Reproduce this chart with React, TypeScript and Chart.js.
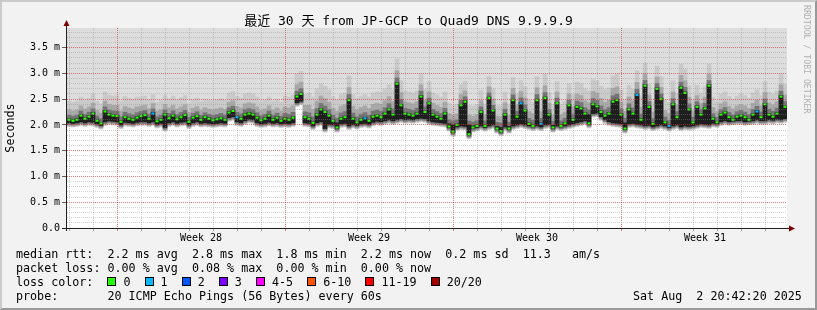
import React, { useEffect, useRef } from 'react';
import { Chart, registerables } from 'chart.js';

Chart.register(...registerables);

const MONO = "'DejaVu Sans Mono', 'Noto Sans CJK SC', monospace";

const titleText = '最近 30 天 from JP-GCP to Quad9 DNS 9.9.9.9';
const yAxisTitle = 'Seconds';
const watermark = 'RRDTOOL / TOBI OETIKER';
const weekLabels = ['Week 28', 'Week 29', 'Week 30', 'Week 31'];
const weekStartHours = [50, 218, 386, 554];
const firstDayLineHour = 2;
const binHours = 4;
const totalHours = 720;
const yMax = 3.88;

// median rtt (ms) per 4-hour bin
const medianRtt = [
  2.10, 2.08, 2.10, 2.18, 2.12, 2.16, 2.22, 2.08, 2.03, 2.26,
  2.20, 2.18, 2.17, 2.06, 2.15, 2.12, 2.10, 2.14, 2.17, 2.19,
  2.12, 2.22, 2.07, 2.10, 2.20, 2.13, 2.18, 2.11, 2.15, 2.19,
  2.06, 2.14, 2.17, 2.10, 2.15, 2.12, 2.09, 2.11, 2.13, 2.10,
  2.24, 2.27, 2.15, 2.12, 2.20,
  2.22, 2.20, 2.14, 2.09, 2.12, 2.18, 2.10, 2.14, 2.08, 2.12,
  2.10, 2.14, 2.55, 2.60, 2.15, 2.12, 2.04, 2.20, 2.30, 2.25,
  2.18, 2.08, 1.95, 2.12, 2.15, 2.48, 2.12, 2.05, 2.10, 2.13,
  2.08, 2.16, 2.18, 2.15, 2.22, 2.30, 2.20, 2.80, 2.38, 2.22,
  2.20, 2.18, 2.22, 2.55, 2.25,
  2.42, 2.20, 2.16, 2.12, 2.22, 1.97, 1.87, 2.00, 2.38, 2.45,
  1.82, 1.95, 1.98, 2.25, 1.98, 2.52, 2.28, 1.93, 1.88, 2.20,
  1.93, 2.48, 2.16, 2.42, 2.28, 2.02, 1.98, 2.48, 2.02, 2.52,
  2.20, 1.95, 2.42, 1.98, 2.03, 2.38, 2.10, 2.35, 2.32, 2.22,
  2.03, 2.40, 2.36, 2.25, 2.18,
  2.22, 2.45, 2.48, 2.20, 1.93, 2.30, 2.22, 2.58, 2.10, 2.76,
  2.35, 2.02, 2.70, 2.50, 2.05, 1.98, 2.40, 2.15, 2.72, 2.62,
  2.30, 2.05, 2.35, 2.20, 2.32, 2.76, 2.12, 2.05, 2.20, 2.24,
  2.15, 2.10, 2.16, 2.18, 2.15, 2.10, 2.20, 2.26, 2.15, 2.40,
  2.20, 2.16, 2.22, 2.55, 2.35,
];

// lower edge of the dense smoke (ms) per 4-hour bin
const smokeLow = [
  2.06, 2.05, 2.06, 2.08, 2.06, 2.08, 2.07, 2.04, 2.01, 2.08,
  2.10, 2.09, 2.08, 2.02, 2.07, 2.06, 2.05, 2.07, 2.08, 2.08,
  2.06, 2.08, 2.03, 2.05, 1.97, 2.06, 2.08, 2.05, 2.07, 2.08,
  2.02, 2.06, 2.08, 2.05, 2.06, 2.05, 2.04, 2.05, 2.06, 2.05,
  2.16, 2.18, 2.08, 2.06, 2.10,
  2.13, 2.12, 2.06, 2.04, 2.05, 2.07, 2.05, 2.06, 2.04, 2.05,
  2.04, 2.06, 2.45, 2.48, 2.06, 2.05, 2.00, 2.06, 2.08, 1.95,
  2.03, 2.02, 2.02, 2.04, 2.05, 2.00, 2.03, 2.01, 2.04, 2.05,
  2.03, 2.07, 2.09, 2.08, 2.10, 2.12, 2.10, 2.12, 2.14, 2.12,
  2.13, 2.12, 2.14, 2.15, 2.14,
  2.10, 2.08, 2.07, 2.06, 2.05, 2.00, 1.98, 1.98, 2.00, 1.99,
  1.98, 1.96, 1.97, 2.00, 1.97, 2.00, 2.02, 1.95, 1.93, 1.98,
  1.95, 2.00, 2.02, 2.04, 2.02, 2.00, 1.98, 2.00, 1.98, 2.02,
  2.03, 1.97, 2.00, 1.98, 2.00, 2.02, 2.04, 2.06, 2.08, 2.10,
  2.18, 2.24, 2.25, 2.18, 2.12,
  2.08, 2.06, 2.05, 2.04, 2.02, 2.04, 2.05, 2.03, 2.02, 2.00,
  2.01, 1.98, 2.00, 2.02, 2.00, 1.97, 2.00, 2.02, 1.98, 2.00,
  1.99, 2.00, 2.02, 2.04, 2.03, 2.02, 2.05, 2.04, 2.08, 2.10,
  2.08, 2.09, 2.10, 2.10, 2.08, 2.09, 2.10, 2.12, 2.10, 2.10,
  2.12, 2.11, 2.13, 2.12, 2.14,
];

// how far the light smoke rises above the dense smoke (ms), per day
const smokeSpread = [
  0.34, 0.36, 0.38, 0.35, 0.36, 0.33, 0.36, 0.38, 0.34, 0.42,
  0.48, 0.45, 0.44, 0.46, 0.42, 0.40, 0.38, 0.40, 0.42, 0.44,
  0.40, 0.46, 0.48, 0.45, 0.42, 0.44, 0.40, 0.38, 0.40, 0.42,
];

// bins whose median is drawn in the "1 lost" colour
const lossOneBins = [21, 42, 74, 113, 118, 142, 150, 172];

const lossLabels = ['0', '1', '2', '3', '4-5', '6-10', '11-19', '20/20'];
const lossColors = ['#26ff00', '#00b8ff', '#0059ff', '#7e00ff', '#ff00ff', '#ff5500', '#ff0000', '#a10000'];

const rttLine = 'median rtt:  2.2 ms avg  2.8 ms max  1.8 ms min  2.2 ms now  0.2 ms sd  11.3   am/s';
const lossLine = 'packet loss: 0.00 % avg  0.08 % max  0.00 % min  0.00 % now';
const lossColorLabel = 'loss color:  ';
const probeLine = 'probe:       20 ICMP Echo Pings (56 Bytes) every 60s';
const dateLine = 'Sat Aug  2 20:42:20 2025';

const GRID = 'rgba(143,143,143,0.4)';
const MGRID = 'rgba(225,40,40,0.6)';
const NONE = 'rgba(0,0,0,0)';

export default function App() {
  const ref = useRef<HTMLCanvasElement | null>(null);

  useEffect(() => {
    if (!ref.current) return;
    const hourOf = (i: number) => i * binHours + binHours / 2;
    const darkLo = medianRtt.map((m, i) => Math.min(m, smokeLow[i]) - 0.02);
    const darkHi = medianRtt.map((m, i) => Math.max(m, smokeLow[i]) + 0.02);
    const spreadAt = (i: number) => smokeSpread[Math.min(smokeSpread.length - 1, Math.floor((i * binHours) / 24))];
    const layer = (fn: (i: number) => number[]) => medianRtt.map((_, i) => ({ x: hourOf(i), y: fn(i) }));

    const weekLabelHours = weekStartHours.map((h) => h + 84);
    const dayLines: number[] = [];
    for (let h = firstDayLineHour; h < totalHours; h += 24) dayLines.push(h);
    const xTicks = [...dayLines, ...weekLabelHours].sort((a, b) => a - b);
    const yTicks: number[] = [];
    for (let i = 0; i <= Math.floor(yMax * 10); i++) yTicks.push(i / 10);
    const isMajorY = (v: number) => Math.round(v * 10) % 5 === 0;

    const common = { grouped: false, barPercentage: 1, categoryPercentage: 1, borderWidth: 0 };

    const bgPlugin = {
      id: 'canvasBg',
      beforeDraw(chart: any) {
        const { ctx, chartArea: a } = chart;
        ctx.save();
        ctx.fillStyle = '#dddddd';
        ctx.fillRect(a.left, a.top, a.right - a.left, a.bottom - a.top);
        ctx.restore();
      },
    };

    const axisPlugin = {
      id: 'rrdAxes',
      afterDraw(chart: any) {
        const { ctx, chartArea: a } = chart;
        ctx.save();
        ctx.strokeStyle = '#202020';
        ctx.lineWidth = 1;
        ctx.beginPath();
        ctx.moveTo(a.left - 0.5, a.bottom + 3);
        ctx.lineTo(a.left - 0.5, a.top - 3);
        ctx.moveTo(a.left - 5, a.bottom + 0.5);
        ctx.lineTo(a.right + 3, a.bottom + 0.5);
        ctx.stroke();
        ctx.fillStyle = '#7f0000';
        ctx.beginPath();
        ctx.moveTo(a.left - 0.5, a.top - 8);
        ctx.lineTo(a.left - 3.5, a.top - 2);
        ctx.lineTo(a.left + 2.5, a.top - 2);
        ctx.closePath();
        ctx.fill();
        ctx.beginPath();
        ctx.moveTo(a.right + 8, a.bottom + 0.5);
        ctx.lineTo(a.right + 2, a.bottom - 2.5);
        ctx.lineTo(a.right + 2, a.bottom + 3.5);
        ctx.closePath();
        ctx.fill();
        ctx.restore();
      },
    };

    const chart = new Chart(ref.current, {
      type: 'bar',
      data: {
        datasets: [
          { ...common, label: 'below', data: layer((i) => [0, darkLo[i] - 0.07]), backgroundColor: '#ffffff', order: 10 },
          { ...common, label: 'smoke1', data: layer((i) => [darkLo[i] - 0.07, darkHi[i] + spreadAt(i)]), backgroundColor: '#cacaca', order: 9 },
          { ...common, label: 'smoke2', data: layer((i) => [darkLo[i] - 0.05, darkHi[i] + spreadAt(i) * 0.5]), backgroundColor: '#a8a8a8', order: 8 },
          { ...common, label: 'smoke3', data: layer((i) => [darkLo[i] - 0.03, darkHi[i] + spreadAt(i) * 0.2]), backgroundColor: '#747474', order: 7 },
          { ...common, label: 'smoke4', data: layer((i) => [darkLo[i], darkHi[i]]), backgroundColor: '#1e1e1e', order: 6 },
          {
            ...common,
            label: 'median',
            data: layer((i) => [medianRtt[i] - 0.02, medianRtt[i] + 0.02]),
            backgroundColor: medianRtt.map((_, i) => (lossOneBins.includes(i) ? lossColors[1] : lossColors[0])),
            barPercentage: 0.75,
            order: 1,
          },
        ] as any,
      },
      options: {
        animation: false,
        responsive: false,
        events: [],
        layout: { padding: { left: 0, top: 28, right: 30, bottom: 62 } },
        plugins: { legend: { display: false }, tooltip: { enabled: false }, title: { display: false } },
        scales: {
          x: {
            type: 'linear',
            min: 0,
            max: totalHours,
            offset: false,
            afterFit: (s: any) => { s.height = 20; },
            afterBuildTicks: (s: any) => { s.ticks = xTicks.map((v) => ({ value: v })); },
            grid: {
              z: 1,
              offset: false,
              lineWidth: 1,
              tickLength: 3,
              color: (c: any) => {
                const v = c.tick ? c.tick.value : -1;
                if (weekStartHours.includes(v)) return MGRID;
                if (weekLabelHours.includes(v)) return NONE;
                return GRID;
              },
              tickColor: (c: any) => {
                const v = c.tick ? c.tick.value : -1;
                if (weekStartHours.includes(v)) return MGRID;
                if (weekLabelHours.includes(v)) return NONE;
                return 'rgba(120,120,120,0.6)';
              },
            },
            border: { display: false, dash: [1, 1] },
            ticks: {
              z: 1,
              autoSkip: false,
              maxRotation: 0,
              minRotation: 0,
              padding: 1,
              color: '#000',
              font: { family: MONO, size: 10 },
              callback: (v: any) => {
                const k = weekLabelHours.indexOf(Number(v));
                return k >= 0 ? weekLabels[k] : '';
              },
            },
          },
          y: {
            type: 'linear',
            min: 0,
            max: yMax,
            afterFit: (s: any) => { s.width = 67; },
            afterBuildTicks: (s: any) => { s.ticks = yTicks.map((v) => ({ value: v })); },
            grid: {
              z: 1,
              lineWidth: 1,
              tickLength: 5,
              color: (c: any) => (c.tick && isMajorY(c.tick.value) ? MGRID : GRID),
              tickColor: (c: any) => (c.tick && isMajorY(c.tick.value) ? 'rgba(80,80,80,0.9)' : NONE),
            },
            border: { display: false, dash: [1, 1] },
            ticks: {
              z: 1,
              autoSkip: false,
              padding: 2,
              color: '#000',
              font: { family: MONO, size: 10 },
              callback: (v: any) => {
                const i = Math.round(Number(v) * 10);
                if (i % 5 !== 0) return '';
                return i === 0 ? '0.0' : (i / 10).toFixed(1) + ' m';
              },
            },
            title: {
              display: true,
              text: yAxisTitle,
              color: '#000',
              font: { family: MONO, size: 11.7 },
              padding: { top: 4, bottom: 0 },
            },
          },
        },
      } as any,
      plugins: [bgPlugin, axisPlugin],
    });
    return () => chart.destroy();
  }, []);

  const line = (top: number): React.CSSProperties => ({
    position: 'absolute',
    left: 16,
    top,
    fontFamily: MONO,
    fontSize: '11.7px',
    lineHeight: '14px',
    whiteSpace: 'pre',
    color: '#000',
  });

  return (
    <div style={{ position: 'fixed', left: 0, top: 0, width: 817, height: 310, background: '#f2f2f2', overflow: 'hidden' }}>
      <canvas ref={ref} width={817} height={310} style={{ position: 'absolute', left: 0, top: 0, width: 817, height: 310 }} />
      <div
        style={{
          position: 'absolute', left: 0, top: 13, width: 817, textAlign: 'center',
          fontFamily: MONO, fontSize: '13px', lineHeight: '16px', whiteSpace: 'pre', color: '#000',
        }}
      >
        {titleText}
      </div>
      <div
        style={{
          position: 'absolute', left: 802, top: 5, writingMode: 'vertical-rl',
          fontFamily: MONO, fontSize: '8.2px', lineHeight: '10px', whiteSpace: 'pre', color: '#b0b0b0',
        }}
      >
        {watermark}
      </div>
      <div style={line(247)}>{rttLine}</div>
      <div style={line(261)}>{lossLine}</div>
      <div style={line(275)}>
        {lossColorLabel}
        {lossLabels.map((l, i) => (
          <span key={l}>
            <span
              style={{
                display: 'inline-block', width: 9, height: 9, boxSizing: 'border-box',
                border: '1px solid #000', background: lossColors[i], marginRight: 7, verticalAlign: 'baseline',
              }}
            />
            {l + (i < lossLabels.length - 1 ? '  ' : '')}
          </span>
        ))}
      </div>
      <div style={line(289)}>{probeLine}</div>
      <div style={{ ...line(289), left: 633 }}>{dateLine}</div>
      <div
        style={{
          position: 'absolute', left: 0, top: 0, width: 817, height: 310, boxSizing: 'border-box',
          borderStyle: 'solid', borderWidth: 2, borderColor: '#cbcbcb #999999 #999999 #cbcbcb', pointerEvents: 'none',
        }}
      />
    </div>
  );
}
